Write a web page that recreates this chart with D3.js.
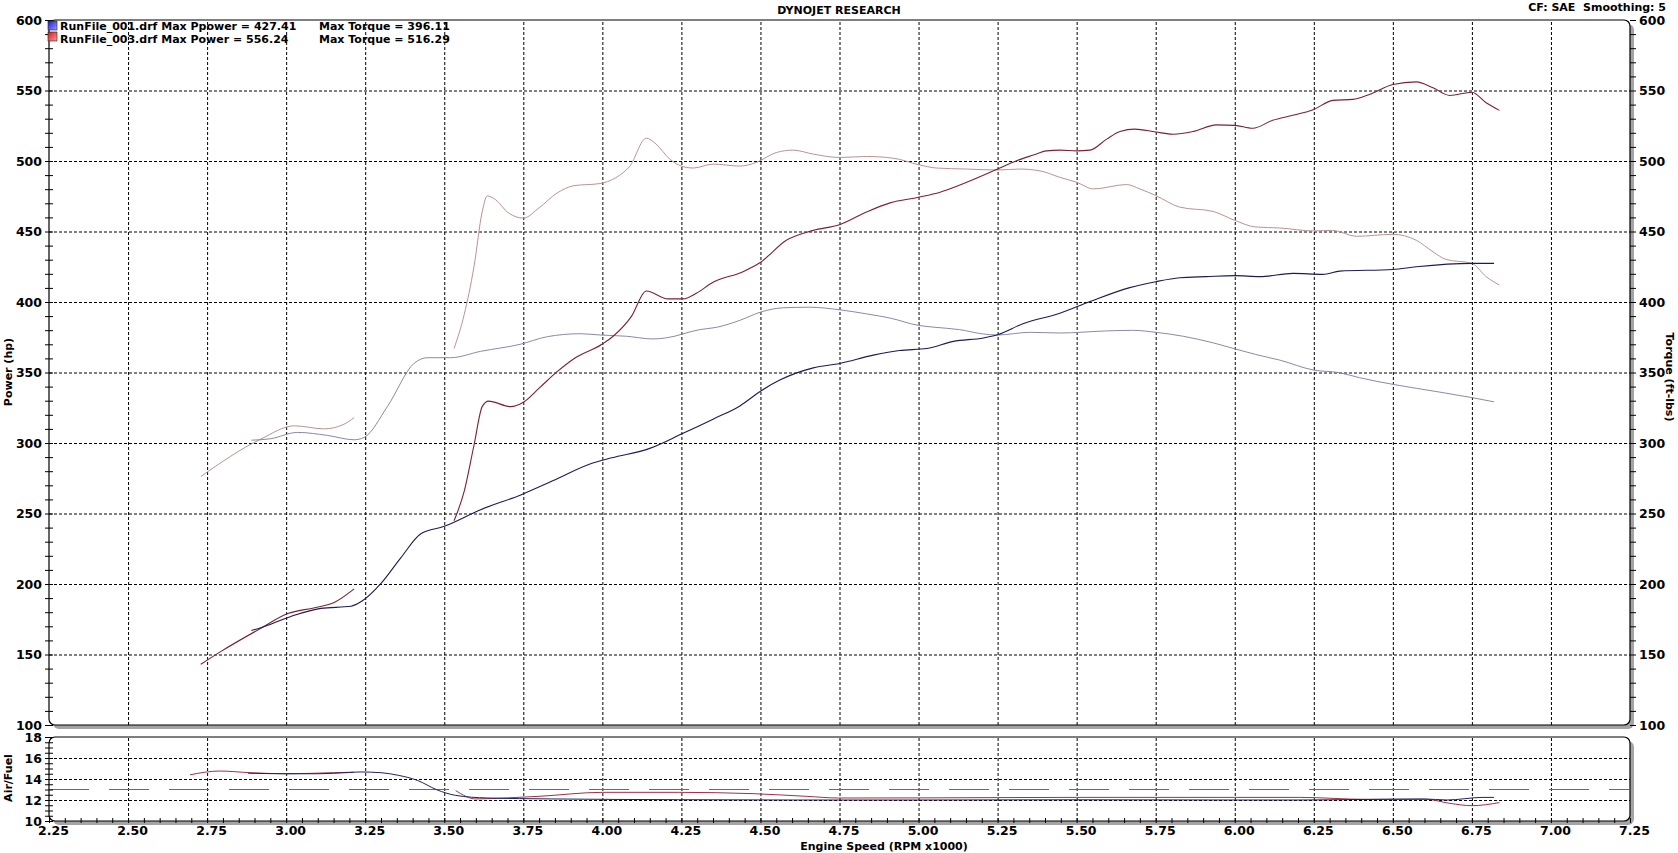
<!DOCTYPE html>
<html><head><meta charset="utf-8">
<script src="https://cdn.jsdelivr.net/npm/d3@7"></script>
<style>
html,body{margin:0;padding:0;background:#fff;}
svg{display:block;font-family:"DejaVu Sans",Verdana,sans-serif;}
.lab{font-weight:bold;fill:#000;}
</style></head>
<body><svg id="c" width="1678" height="853"></svg>
<script>
// ---------------- DATA ----------------
const xTicks = [2.25,2.50,2.75,3.00,3.25,3.50,3.75,4.00,4.25,4.50,4.75,5.00,5.25,5.50,5.75,6.00,6.25,6.50,6.75,7.00,7.25];
const powerTicks = [100,150,200,250,300,350,400,450,500,550,600];
const afrTicks = [10,12,14,16,18];
const afrTarget = 13;
const legendRuns = ["RunFile_001.drf Max Ppower = 427.41", "RunFile_003.drf Max Power = 556.24"];
const legendTorque = ["Max Torque = 396.11", "Max Torque = 516.29"];

// Run 001 power (hp)
const run1Power = [[2.89,167],[2.92,169],[3.015,177],[3.11,182.7],[3.205,184.2],[3.24,187.9],[3.30,200.4],[3.363,218.7],[3.426,235.7],[3.50,240.9],[3.615,252.7],[3.742,263.2],[3.847,273.6],[3.963,285.3],[4.03,289.5],[4.15,296.2],[4.25,306.3],[4.35,316.9],[4.435,326.3],[4.50,336.7],[4.561,344.6],[4.667,353.3],[4.75,356.4],[4.857,362.3],[4.94,365.6],[5.026,367],[5.11,372.1],[5.205,374.5],[5.25,376.8],[5.33,384.6],[5.447,392],[5.542,400.3],[5.668,410.2],[5.75,414.4],[5.826,417.2],[5.91,418],[6.0,418.7],[6.079,418],[6.184,420.3],[6.279,419.6],[6.332,421.9],[6.5,423.1],[6.574,425],[6.75,427.4],[6.82,427.4]];
// Run 001 torque (ft-lbs)
const run1Torque = [[2.89,302],[2.95,303],[3.036,307.5],[3.13,305.4],[3.215,302.3],[3.247,304],[3.32,325.8],[3.405,356.6],[3.447,360.5],[3.52,360.5],[3.615,365],[3.74,370],[3.826,375.4],[3.93,377.5],[3.992,376.6],[4.076,375.7],[4.16,373.8],[4.2,374.5],[4.308,380.4],[4.36,382],[4.435,387],[4.5,392.8],[4.572,395.9],[4.656,396.3],[4.75,394.5],[4.835,391.6],[4.91,388.6],[5.0,383.4],[5.046,382.2],[5.13,380.4],[5.205,377.3],[5.25,376.6],[5.352,378.5],[5.447,378],[5.595,379.5],[5.68,379.9],[5.75,378.5],[5.837,375.7],[5.932,371],[6.0,366.8],[6.066,362.8],[6.142,358.8],[6.25,351.7],[6.33,349.9],[6.395,346.3],[6.5,341.6],[6.574,338.8],[6.75,332.2],[6.82,329.2]];
// Run 003 power (hp) - null marks the gap
const run3Power = [[2.73,143],[2.794,152.2],[2.92,168.6],[3.005,179],[3.09,183.2],[3.152,186.9],[3.215,196.5],[3.3,null],[3.531,244.8],[3.563,265.7],[3.594,298.4],[3.62,325.8],[3.64,329.7],[3.71,325.8],[3.75,328.9],[3.8,338.9],[3.857,350.6],[3.91,359.8],[4.0,370.2],[4.034,375.7],[4.092,389.8],[4.139,407.8],[4.208,402.2],[4.255,402.2],[4.297,406.2],[4.35,414],[4.445,421.5],[4.498,427.8],[4.582,443.8],[4.667,450.8],[4.75,454.8],[4.835,463.8],[4.91,470.3],[5.0,474.3],[5.068,477.9],[5.152,484.9],[5.25,494.3],[5.31,500.2],[5.363,504.2],[5.405,507.2],[5.447,507.7],[5.5,507.2],[5.542,507.7],[5.595,515.5],[5.637,520.9],[5.684,522.6],[5.75,520.6],[5.805,519],[5.868,520.9],[5.942,525.6],[6.0,525.3],[6.057,523.2],[6.12,528.9],[6.184,532.4],[6.25,536.6],[6.31,543],[6.374,543.7],[6.426,547.2],[6.5,554.2],[6.574,556.1],[6.627,551.9],[6.68,546.5],[6.75,548.8],[6.795,541.3],[6.837,535.9]];
// Run 003 torque (ft-lbs)
const run3Torque = [[2.73,276.2],[2.92,302.8],[3.026,312.2],[3.12,310],[3.18,313],[3.215,318],[3.3,null],[3.531,367],[3.563,391],[3.594,425],[3.62,464],[3.636,475.2],[3.657,473.4],[3.705,462.9],[3.75,459.5],[3.8,466.8],[3.857,477.3],[3.91,482.5],[3.992,484],[4.057,490.3],[4.086,496],[4.139,516.2],[4.17,512],[4.213,501.4],[4.255,496],[4.287,495],[4.35,497.8],[4.435,496.4],[4.487,499],[4.55,506],[4.603,507.7],[4.667,504.9],[4.75,502.5],[4.835,503.2],[4.92,502],[5.0,497.4],[5.057,495],[5.152,494.3],[5.25,493.6],[5.32,494.3],[5.384,493],[5.447,488.4],[5.5,484.9],[5.553,480.2],[5.658,483.3],[5.7,480.2],[5.75,475.5],[5.826,467.3],[5.932,464.2],[6.0,457.9],[6.066,453.2],[6.142,452.5],[6.25,450.4],[6.31,450.8],[6.384,446.6],[6.5,448],[6.574,443.8],[6.627,435.6],[6.668,430.2],[6.75,427.4],[6.795,418],[6.837,412]];
// Air/Fuel
const run1Afr = [[2.88,14.55],[3.0,14.5],[3.1,14.5],[3.2,14.62],[3.234,14.67],[3.3,14.6],[3.355,14.35],[3.415,13.87],[3.476,12.98],[3.536,12.44],[3.637,12.19],[3.84,12.1],[4.24,12.03],[4.6,12.0],[5.0,12.0],[5.5,12.02],[6.0,12.0],[6.2,12.0],[6.4,12.05],[6.6,12.1],[6.67,12.0],[6.785,12.25],[6.82,12.25]];
const run3Afr = [[2.696,14.4],[2.79,14.76],[2.886,14.6],[3.0,14.5],[3.15,14.6],[3.215,14.65],[3.3,null],[3.536,12.9],[3.6,12.1],[3.7,12.2],[3.8,12.35],[4.0,12.73],[4.24,12.73],[4.48,12.6],[4.645,12.35],[4.746,12.19],[5.0,12.2],[5.5,12.25],[6.0,12.25],[6.205,12.25],[6.416,12.06],[6.606,12.06],[6.68,11.68],[6.75,11.46],[6.837,11.75]];

// ---------------- CHART ----------------
const svg = d3.select("#c");
const L = 49, R = 1630, mainTop = 20, mainBot = 725, afrTop = 737, afrBot = 821;
const x = d3.scaleLinear().domain([2.25,7.25]).range([L,R]);
const y = d3.scaleLinear().domain([100,600]).range([mainBot,mainTop]);
const ya = d3.scaleLinear().domain([10,18]).range([afrBot,afrTop]);

const defs = svg.append("defs");
function grad(id,c1,c2){
  const g = defs.append("linearGradient").attr("id",id).attr("x1","0").attr("x2","1").attr("y1","0").attr("y2","1");
  g.append("stop").attr("offset","0").attr("stop-color",c1);
  g.append("stop").attr("offset","1").attr("stop-color",c2);
}
grad("gb","#1a1acc","#9a9aff");
grad("gr","#cc1a1a","#ff9a9a");

function panel(y0,y1){
  svg.append("rect").attr("x",L+4).attr("y",y0+4).attr("width",R-L).attr("height",y1-y0)
    .attr("rx",6).attr("fill","#a4a4a4");
  svg.append("rect").attr("x",L).attr("y",y0).attr("width",R-L).attr("height",y1-y0)
    .attr("rx",6).attr("fill","#fff").attr("stroke","#000").attr("stroke-width",1.2);
}
panel(mainTop,mainBot);
panel(afrTop,afrBot);

const gridV = xTicks.filter(v=>v>2.25 && v<7.25);
function dashGrid(g){ g.select(".domain").remove(); g.selectAll("line").attr("stroke","#000").attr("stroke-dasharray","3,2"); }
svg.append("g").attr("transform",`translate(0,${mainBot})`)
  .call(d3.axisBottom(x).tickValues(gridV).tickSize(-(mainBot-mainTop)).tickFormat("")).call(dashGrid);
svg.append("g").attr("transform",`translate(0,${afrBot})`)
  .call(d3.axisBottom(x).tickValues(gridV).tickSize(-(afrBot-afrTop)).tickFormat("")).call(dashGrid);
svg.append("g").attr("transform",`translate(${L},0)`)
  .call(d3.axisLeft(y).tickValues(powerTicks.filter(v=>v>100&&v<600)).tickSize(-(R-L)).tickFormat("")).call(dashGrid);
svg.append("g").attr("transform",`translate(${L},0)`)
  .call(d3.axisLeft(ya).tickValues(afrTicks.filter(v=>v>10&&v<18)).tickSize(-(R-L)).tickFormat("")).call(dashGrid);

svg.append("line").attr("x1",x(2.25)).attr("x2",x(7.25)).attr("y1",ya(afrTarget)).attr("y2",ya(afrTarget))
  .attr("stroke","#c8404e").attr("stroke-width",1.1).attr("stroke-dasharray","40,20");

function styleLabels(g){
  g.select(".domain").remove(); g.selectAll("line").remove();
  g.selectAll("text").attr("class","lab").style("font-size","12.5px").style("font-family","DejaVu Sans, sans-serif");
}
const minorP = d3.range(100,601,10);
svg.append("g").attr("transform",`translate(${L},0)`)
  .call(d3.axisLeft(y).tickValues(minorP).tickSize(4).tickFormat(""))
  .call(g=>{g.select(".domain").remove(); g.selectAll("line").attr("x1",4).attr("x2",-4).attr("stroke","#000");});
svg.append("g").attr("transform",`translate(${L},0)`)
  .call(d3.axisLeft(y).tickValues(powerTicks).tickSize(4).tickPadding(3).tickFormat(d3.format("d"))).call(styleLabels);
svg.append("g").attr("transform",`translate(${R},0)`)
  .call(d3.axisRight(y).tickValues(minorP).tickSize(6).tickFormat(""))
  .call(g=>{g.select(".domain").remove(); g.selectAll("line").attr("stroke","#000");});
svg.append("g").attr("transform",`translate(${R},0)`)
  .call(d3.axisRight(y).tickValues(powerTicks).tickSize(6).tickPadding(3).tickFormat(d3.format("d"))).call(styleLabels);
svg.append("g").attr("transform",`translate(${L},0)`)
  .call(d3.axisLeft(ya).tickValues(d3.range(10,18.01,0.5)).tickSize(4).tickFormat(""))
  .call(g=>{g.select(".domain").remove(); g.selectAll("line").attr("x1",4).attr("x2",-4).attr("stroke","#000");});
svg.append("g").attr("transform",`translate(${L},0)`)
  .call(d3.axisLeft(ya).tickValues(afrTicks).tickSize(4).tickPadding(3).tickFormat(d3.format("d"))).call(styleLabels);
svg.append("g").attr("transform",`translate(0,${afrBot})`)
  .call(d3.axisBottom(x).tickValues(d3.range(0,101).map(i=>2.25+i*0.05)).tickSize(3).tickFormat(""))
  .call(g=>{g.select(".domain").remove(); g.selectAll("line").attr("y1",-3).attr("y2",2).attr("stroke","#000");});
svg.append("g").attr("transform",`translate(0,${afrBot})`)
  .call(d3.axisBottom(x).tickValues(xTicks).tickSize(0).tickPadding(5).tickFormat(d3.format(".2f")))
  .call(styleLabels).call(g=>g.selectAll("text").attr("dx",4));

const line = d3.line().defined(d=>d[1]!=null).x(d=>x(d[0])).y(d=>y(d[1])).curve(d3.curveMonotoneX);
const lineA = d3.line().defined(d=>d[1]!=null).x(d=>x(d[0])).y(d=>ya(d[1])).curve(d3.curveMonotoneX);
function draw(data,gen,color,w){
  svg.append("path").datum(data).attr("d",gen).attr("fill","none").attr("stroke",color).attr("stroke-width",w);
}
draw(run3Torque,line,"#b89494",1.0);
draw(run1Torque,line,"#8a8aa8",1.0);
draw(run3Power,line,"#7a2233",1.1);
draw(run1Power,line,"#1c1c52",1.1);
draw(run3Afr,lineA,"#a03048",1.0);
draw(run1Afr,lineA,"#20205e",1.0);

svg.append("text").attr("class","lab").attr("x",839).attr("y",14).attr("text-anchor","middle")
  .style("font-size","11px").text("DYNOJET RESEARCH");
svg.append("text").attr("class","lab").attr("x",1666).attr("y",11).attr("text-anchor","end")
  .style("font-size","11px").attr("xml:space","preserve").text("CF: SAE  Smoothing: 5");
svg.append("rect").attr("x",48).attr("y",21).attr("width",9).attr("height",9).attr("fill","url(#gb)").attr("stroke","#222").attr("stroke-width",0.6);
svg.append("rect").attr("x",48).attr("y",32).attr("width",9).attr("height",9).attr("fill","url(#gr)").attr("stroke","#222").attr("stroke-width",0.6);
legendRuns.forEach((t,i)=>{
  svg.append("text").attr("class","lab").attr("x",60).attr("y",30+i*12.5).style("font-size","11px").text(t);
  svg.append("text").attr("class","lab").attr("x",319).attr("y",30+i*12.5).style("font-size","11px").text(legendTorque[i]);
});
svg.append("text").attr("class","lab").attr("transform","translate(12,372) rotate(-90)").attr("text-anchor","middle")
  .style("font-size","11px").text("Power (hp)");
svg.append("text").attr("class","lab").attr("transform","translate(1666,377) rotate(90)").attr("text-anchor","middle")
  .style("font-size","11px").text("Torque (ft-lbs)");
svg.append("text").attr("class","lab").attr("transform","translate(12,778) rotate(-90)").attr("text-anchor","middle")
  .style("font-size","11px").text("Air/Fuel");
svg.append("text").attr("class","lab").attr("x",884).attr("y",850).attr("text-anchor","middle")
  .style("font-size","11px").text("Engine Speed (RPM x1000)");
</script></body></html>
